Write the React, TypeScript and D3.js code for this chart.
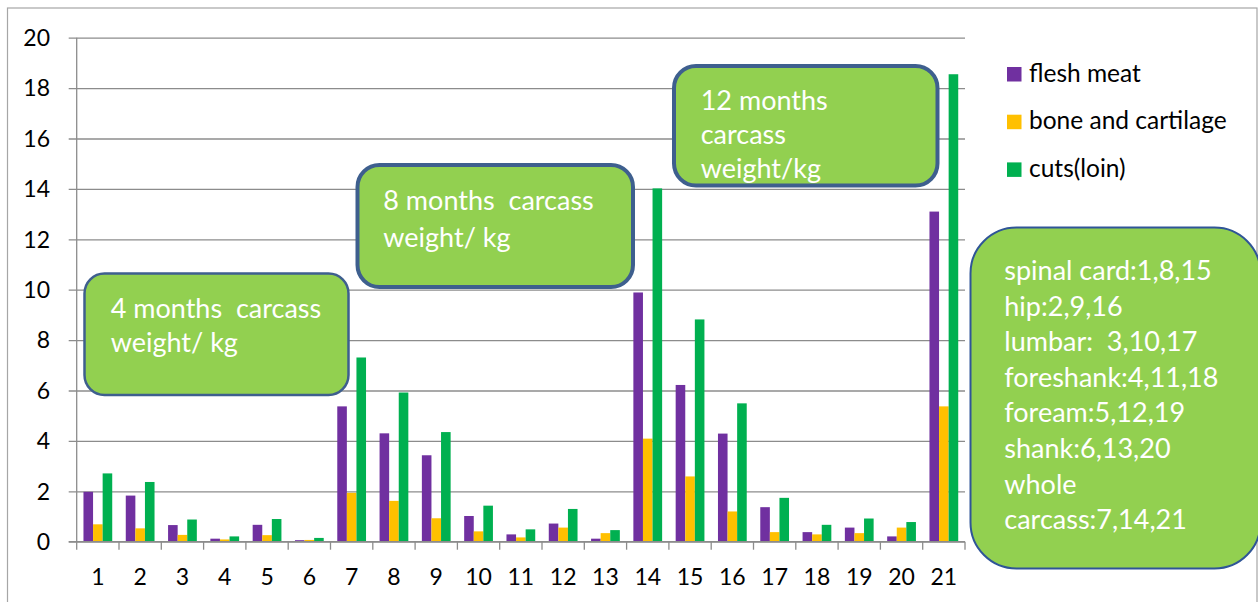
import React, { useEffect, useRef } from 'react';
import * as d3 from 'd3';

// chart values
const categories = Array.from({ length: 21 }, (_, i) => String(i + 1));
const seriesNames = ['flesh meat', 'bone and cartilage', 'cuts(loin)'];
const seriesColors = ['#7030A0', '#FFC000', '#00B050'];

const fleshMeat = [1.98, 1.83, 0.66, 0.12, 0.67, 0.06, 5.37, 4.30, 3.43, 1.02, 0.29, 0.72, 0.12, 9.89, 6.22, 4.29, 1.37, 0.38, 0.56, 0.21, 13.10];
const boneCartilage = [0.69, 0.53, 0.27, 0.09, 0.26, 0.07, 1.94, 1.62, 0.93, 0.41, 0.17, 0.56, 0.34, 4.09, 2.59, 1.20, 0.38, 0.29, 0.34, 0.56, 5.37];
const cutsLoin = [2.71, 2.37, 0.88, 0.21, 0.90, 0.15, 7.31, 5.92, 4.35, 1.43, 0.49, 1.30, 0.46, 14.02, 8.82, 5.49, 1.74, 0.67, 0.92, 0.78, 18.55];

const yTicks = [0, 2, 4, 6, 8, 10, 12, 14, 16, 18, 20];

const ageNotes = [
  ['4 months  carcass', 'weight/ kg'],
  ['8 months  carcass', 'weight/ kg'],
  ['12 months', 'carcass', 'weight/kg'],
];
const partNotes = [
  'spinal card:1,8,15',
  'hip:2,9,16',
  'lumbar:  3,10,17',
  'foreshank:4,11,18',
  'foream:5,12,19',
  'shank:6,13,20',
  'whole',
  'carcass:7,14,21',
];

const FONT = 'Lato, "Open Sans", sans-serif';

const App = () => {
  const svgRef = useRef<SVGSVGElement>(null);

  useEffect(() => {
    const svg = d3.select(svgRef.current);
    svg.selectAll('*').remove();

    const W = 1258;
    const H = 602;
    const plot = { left: 76.7, right: 965, top: 37.7, bottom: 541.7 };

    svg.append('rect')
      .attr('width', W)
      .attr('height', H)
      .attr('fill', '#fff');

    // outer chart border
    svg.append('rect')
      .attr('x', 7.5)
      .attr('y', 8)
      .attr('width', 1249.5)
      .attr('height', 620)
      .attr('fill', 'none')
      .attr('stroke', '#a6a6a6')
      .attr('stroke-width', 1.2);

    const x0 = d3.scaleBand()
      .domain(categories)
      .range([plot.left, plot.right])
      .padding(0);

    const bw = x0.bandwidth();
    const x1 = d3.scaleBand()
      .domain(seriesNames)
      .range([bw * 0.16, bw * 0.84])
      .padding(0);

    const y = d3.scaleLinear()
      .domain([0, 20])
      .range([plot.bottom, plot.top]);

    // grid lines with the small left ticks
    svg.append('g')
      .attr('transform', `translate(${plot.left},0)`)
      .call(d3.axisLeft(y)
        .tickValues(yTicks)
        .tickSize(-(plot.right - plot.left))
        .tickSizeOuter(0)
        .tickFormat(() => '')
      )
      .call(g => g.select('.domain').remove())
      .call(g => g.selectAll('.tick line')
        .attr('x1', -8)
        .attr('stroke', '#8c8c8c')
        .attr('stroke-width', 1.3));

    // y tick labels
    svg.append('g')
      .selectAll('text')
      .data(yTicks)
      .enter()
      .append('text')
      .attr('x', 50)
      .attr('y', d => y(d))
      .attr('dy', '0.36em')
      .attr('text-anchor', 'end')
      .style('font-family', FONT)
      .style('font-size', '23px')
      .style('fill', '#000')
      .text(d => d);

    // bars
    const series = [fleshMeat, boneCartilage, cutsLoin];
    const groups = svg.append('g')
      .selectAll('g')
      .data(categories)
      .enter()
      .append('g')
      .attr('transform', d => `translate(${x0(d)},0)`);

    series.forEach((vals, si) => {
      groups.append('rect')
        .attr('x', x1(seriesNames[si]) as number)
        .attr('y', (_, i) => y(vals[i]))
        .attr('width', x1.bandwidth())
        .attr('height', (_, i) => plot.bottom - y(vals[i]))
        .attr('fill', seriesColors[si]);
    });

    // y axis line
    svg.append('line')
      .attr('x1', plot.left).attr('x2', plot.left)
      .attr('y1', plot.top).attr('y2', plot.bottom)
      .attr('stroke', '#8c8c8c')
      .attr('stroke-width', 1.3);

    // x axis with ticks between categories
    const xAxis = svg.append('g');
    xAxis.append('line')
      .attr('x1', plot.left - 8).attr('x2', plot.right)
      .attr('y1', plot.bottom).attr('y2', plot.bottom)
      .attr('stroke', '#8c8c8c')
      .attr('stroke-width', 1.3);
    xAxis.selectAll('line.tk')
      .data([...categories.map(c => x0(c) as number), plot.right])
      .enter()
      .append('line')
      .attr('class', 'tk')
      .attr('x1', d => d).attr('x2', d => d)
      .attr('y1', plot.bottom).attr('y2', plot.bottom + 8)
      .attr('stroke', '#8c8c8c')
      .attr('stroke-width', 1.3);
    xAxis.selectAll('text')
      .data(categories)
      .enter()
      .append('text')
      .attr('x', d => (x0(d) as number) + bw / 2)
      .attr('y', 584.5)
      .attr('text-anchor', 'middle')
      .style('font-family', FONT)
      .style('font-size', '23px')
      .style('fill', '#000')
      .text(d => d);

    // legend
    const legend = svg.append('g').attr('transform', 'translate(1007,67)');
    seriesNames.forEach((name, i) => {
      legend.append('rect')
        .attr('x', 0)
        .attr('y', i * 47.7)
        .attr('width', 14.5)
        .attr('height', 14.5)
        .attr('fill', seriesColors[i]);
      legend.append('text')
        .attr('x', 22)
        .attr('y', i * 47.7 + 14.5)
        .style('font-family', FONT)
        .style('font-size', '24.5px')
        .style('fill', '#000')
        .text(name);
    });

    // annotation boxes
    const boxes = [
      { x: 84.5, y: 273.5, w: 264, h: 121.5, r: 20, sw: 2.5, tx: 110.7, ty: 317.7, lh: 34 },
      { x: 357.5, y: 165, w: 275.5, h: 122, r: 22, sw: 4, tx: 383.3, ty: 210, lh: 36.5 },
      { x: 674, y: 66, w: 263.5, h: 119.5, r: 22, sw: 4, tx: 700.7, ty: 110, lh: 34.2 },
    ];
    boxes.forEach((b, i) => {
      svg.append('rect')
        .attr('x', b.x).attr('y', b.y)
        .attr('width', b.w).attr('height', b.h)
        .attr('rx', b.r)
        .attr('fill', '#92D050')
        .attr('stroke', '#3E5F8E')
        .attr('stroke-width', b.sw);
      ageNotes[i].forEach((line, li) => {
        svg.append('text')
          .attr('x', b.tx)
          .attr('y', b.ty + li * b.lh)
          .style('font-family', FONT)
          .style('font-size', '27px')
          .style('white-space', 'pre')
          .style('fill', '#fff')
          .text(line);
      });
    });

    // body part key
    svg.append('rect')
      .attr('x', 970.5).attr('y', 227.5)
      .attr('width', 290).attr('height', 341)
      .attr('rx', 46)
      .attr('fill', '#92D050')
      .attr('stroke', '#2F5597')
      .attr('stroke-width', 2);
    partNotes.forEach((line, i) => {
      svg.append('text')
        .attr('x', 1004.3)
        .attr('y', 280 + i * 35.6)
        .style('font-family', FONT)
        .style('font-size', '27px')
        .style('white-space', 'pre')
        .style('fill', '#fff')
        .text(line);
    });
  }, []);

  return (
    <div style={{ position: 'absolute', left: 0, top: 0 }}>
      <svg ref={svgRef} width={1258} height={602} style={{ display: 'block' }} />
    </div>
  );
};

export default App;
